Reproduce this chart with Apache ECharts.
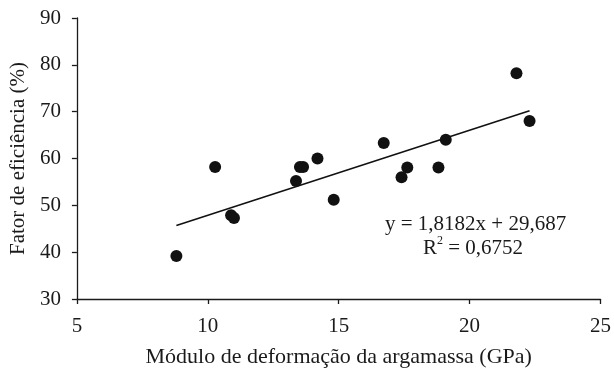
<!DOCTYPE html>
<html>
<head>
<meta charset="utf-8">
<script src="https://cdn.jsdelivr.net/npm/echarts@6/dist/echarts.min.js"></script>
<style>
  html, body { margin: 0; padding: 0; background: #fff; }
  #chart { width: 614px; height: 373px; }
</style>
</head>
<body>
<div id="chart"></div>
<script>
// Módulo de deformação (GPa) e fator de eficiência (%) de cada ensaio
const modulo = [8.8, 10.28, 10.89, 11.0, 13.37, 13.52, 13.64, 14.19, 14.81, 16.72, 17.40, 17.62, 18.81, 19.09, 21.79, 22.29];
const eficiencia = [39.2, 58.2, 47.9, 47.3, 55.2, 58.2, 58.2, 60.0, 51.2, 63.3, 56.0, 58.1, 58.1, 64.0, 78.2, 68.0];

// Regressão linear publicada
const slope = 1.8182;
const intercept = 29.687;
const r2 = 0.6752;

const xTicks = [5, 10, 15, 20, 25];
const yTicks = [30, 40, 50, 60, 70, 80, 90];

const points = modulo.map((x, i) => [x, eficiencia[i]]);
const xMin = Math.min(...modulo), xMax = Math.max(...modulo);
const trend = [[xMin, slope * xMin + intercept], [xMax, slope * xMax + intercept]];

const fmt = (v, d) => v.toFixed(d).replace('.', ',');
const font = '"Liberation Serif", "DejaVu Serif", serif';
const ink = '#1a1a1a';

const chart = echarts.init(document.getElementById('chart'));
chart.setOption({
  animation: false,
  backgroundColor: '#fff',
  textStyle: { fontFamily: font },
  grid: { left: 76, right: 12, top: 18, bottom: 74 },
  xAxis: {
    type: 'value',
    min: xTicks[0], max: xTicks[xTicks.length - 1], interval: 5,
    name: 'Módulo de deformação da argamassa (GPa)',
    nameLocation: 'middle', nameGap: 47,
    nameTextStyle: { fontFamily: font, fontSize: 22, color: ink },
    axisLine: { lineStyle: { color: ink, width: 1.3 } },
    axisTick: { show: true, length: 5, lineStyle: { color: ink, width: 1.3 } },
    axisLabel: { fontFamily: font, fontSize: 21, color: ink, margin: 17 },
    splitLine: { show: false }
  },
  yAxis: {
    type: 'value',
    min: yTicks[0], max: yTicks[yTicks.length - 1], interval: 10,
    name: 'Fator de eficiência (%)',
    nameLocation: 'middle', nameGap: 47,
    nameTextStyle: { fontFamily: font, fontSize: 21, color: ink },
    axisLine: { show: true, lineStyle: { color: ink, width: 1.3 } },
    axisTick: { show: true, length: 5, lineStyle: { color: ink, width: 1.3 } },
    axisLabel: { fontFamily: font, fontSize: 21, color: ink, margin: 16 },
    splitLine: { show: false }
  },
  series: [
    {
      type: 'line',
      data: trend,
      symbol: 'none',
      lineStyle: { color: '#111', width: 1.6 },
      z: 1
    },
    {
      type: 'scatter',
      data: points,
      symbol: 'circle',
      symbolSize: 12,
      itemStyle: { color: '#111', opacity: 1 },
      z: 2
    }
  ],
  graphic: [
    {
      type: 'text',
      left: 385, top: 214,
      style: {
        text: 'y = ' + fmt(slope, 4) + 'x + ' + fmt(intercept, 3),
        font: '21px ' + font,
        fill: ink
      }
    },
    {
      type: 'text',
      left: 423, top: 235,
      style: {
        text: '{r|R}{s|2}{r| = ' + fmt(r2, 4) + '}',
        rich: {
          r: { font: '21px ' + font, fill: ink, verticalAlign: 'bottom', lineHeight: 24 },
          s: { font: '12px ' + font, fill: ink, verticalAlign: 'top', lineHeight: 24 }
        }
      }
    }
  ]
});
</script>
</body>
</html>
